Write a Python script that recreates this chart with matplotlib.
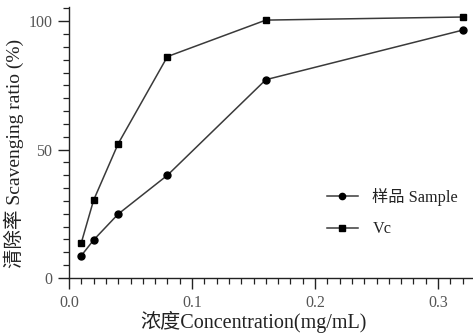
import matplotlib
matplotlib.use("Agg")
import matplotlib.pyplot as plt
from matplotlib.ticker import MultipleLocator, FuncFormatter

conc = [0.01, 0.02, 0.04, 0.08, 0.16, 0.32]
sample = [8.7, 14.8, 24.9, 40.0, 77.2, 96.5]
vc = [13.7, 30.3, 52.3, 86.2, 100.4, 101.6]
series_names = ["样品 Sample", "Vc"]
xlabel = "浓度Concentration(mg/mL)"
ylabel = "清除率 Scavenging ratio (%)"

fam = ["Liberation Serif", "Noto Sans CJK SC"]
plt.rcParams["font.family"] = fam

fig = plt.figure(figsize=(4.73, 3.34), dpi=100)
W, H = 473, 334
left, right, bottom, top = 69, 472.5, 278, 7
ax = fig.add_axes([left / W, 1 - bottom / H, (right - left) / W, (bottom - top) / H])

lc = "#3a3a3a"
ax.plot(conc, sample, color=lc, lw=1.1, marker="o", ms=5, mfc="black", mec="black",
        label=series_names[0])
ax.plot(conc, vc, color=lc, lw=1.1, marker="s", ms=5, mfc="black", mec="black",
        label=series_names[1])

ax.set_xlim(0, 0.328)
ax.set_ylim(0, 105.5)
ax.xaxis.set_major_locator(MultipleLocator(0.1))
ax.xaxis.set_minor_locator(MultipleLocator(0.01))
ax.yaxis.set_major_locator(MultipleLocator(50))
ax.yaxis.set_minor_locator(MultipleLocator(5))
ax.xaxis.set_major_formatter(FuncFormatter(lambda v, p: f"{v:.1f}"))
ax.yaxis.set_major_formatter(FuncFormatter(lambda v, p: f"{v:.0f}"))

for s in ["top", "right"]:
    ax.spines[s].set_visible(False)
for s in ["left", "bottom"]:
    ax.spines[s].set_color("#222222")
    ax.spines[s].set_linewidth(1.0)

ax.tick_params(which="major", direction="out", length=8, width=1.0, color="#222222",
               labelsize=11.5, labelcolor="#555555", pad=4)
ax.tick_params(which="minor", direction="out", length=4.5, width=0.9, color="#222222")

ax.set_xlabel(xlabel, fontsize=14.5, color="#222222")
ax.xaxis.set_label_coords((253 - left) / (right - left), -(322 - bottom) / (bottom - top))
ax.set_ylabel(ylabel, fontsize=14, color="#222222")
ax.yaxis.set_label_coords(-(left - 14) / (right - left), (bottom - 153) / (bottom - top))
ax.xaxis.label.set_va("center")
ax.yaxis.label.set_va("center")

leg = ax.legend(frameon=False, fontsize=11.7, loc="upper left",
                bbox_to_anchor=((327 - left) / (right - left), (bottom - 188) / (bottom - top)),
                handlelength=1.9, handletextpad=0.9, labelspacing=0.95, borderaxespad=0,
                borderpad=0)
for t in leg.get_texts():
    t.set_color("#222222")
for h in leg.legend_handles:
    h.set_markersize(4.5)

fig.savefig("out.png", dpi=100)
